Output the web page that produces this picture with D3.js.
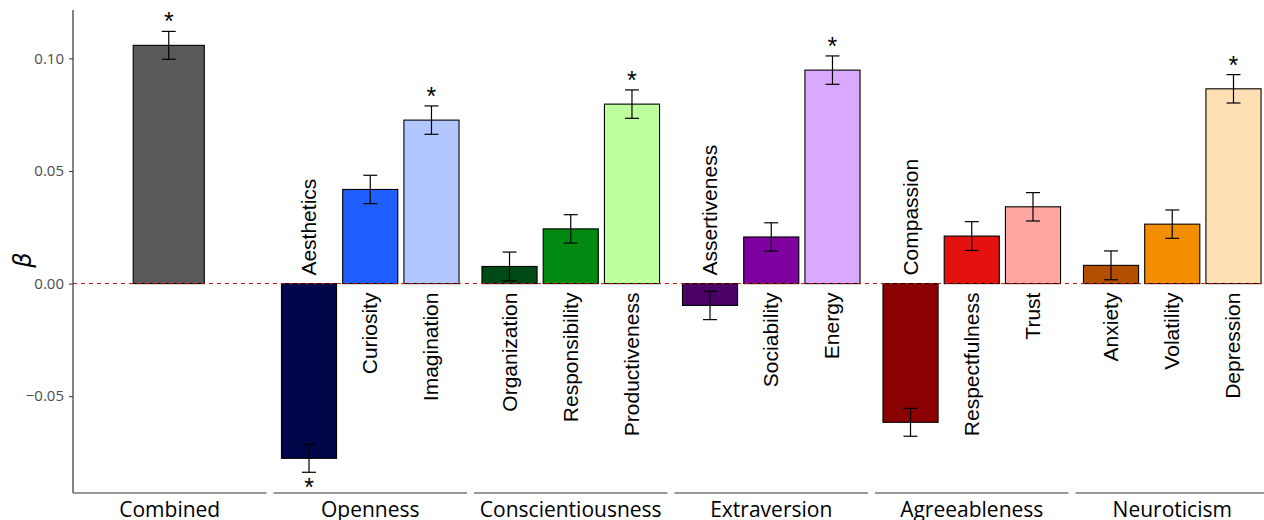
<!DOCTYPE html>
<html>
<head>
<meta charset="utf-8">
<script src="https://cdn.jsdelivr.net/npm/d3@7"></script>
<style>
  body { margin: 0; background: #fff; }
  svg { display: block; }
</style>
</head>
<body>
<svg width="1264" height="520"></svg>
<script>
// facet groups, facets in order
var groups = ["Combined", "Openness", "Conscientiousness", "Extraversion", "Agreeableness", "Neuroticism"];

// one entry per bar
var traits = ["Combined",
  "Aesthetics", "Curiosity", "Imagination",
  "Organization", "Responsibility", "Productiveness",
  "Assertiveness", "Sociability", "Energy",
  "Compassion", "Respectfulness", "Trust",
  "Anxiety", "Volatility", "Depression"];
var traitGroup = ["Combined",
  "Openness", "Openness", "Openness",
  "Conscientiousness", "Conscientiousness", "Conscientiousness",
  "Extraversion", "Extraversion", "Extraversion",
  "Agreeableness", "Agreeableness", "Agreeableness",
  "Neuroticism", "Neuroticism", "Neuroticism"];
var beta = [0.1058,
  -0.0776, 0.0418, 0.0726,
  0.0076, 0.0243, 0.0797,
  -0.0097, 0.0207, 0.0948,
  -0.0616, 0.0211, 0.0341,
  0.0081, 0.0264, 0.0865];
var se = [0.0062,
  0.0062, 0.0063, 0.0063,
  0.0064, 0.0063, 0.0063,
  0.0063, 0.0063, 0.0063,
  0.0062, 0.0064, 0.0063,
  0.0064, 0.0063, 0.0063];
var signif = [true,
  true, false, true,
  false, false, true,
  false, false, true,
  false, false, false,
  false, false, true];
var colors = ["#595959",
  "#00064a", "#1f5eff", "#b3c7ff",
  "#004a17", "#008a12", "#bdff9d",
  "#4a0066", "#7d009f", "#d9a9ff",
  "#8b0000", "#e4120f", "#ffa6a0",
  "#b24f00", "#f28e00", "#ffdfb4"];
var yTicks = [-0.05, 0, 0.05, 0.10];

var svg = d3.select("svg");
var plotLeft = 73, plotRight = 1262, plotTop = 10, plotBottom = 493;

var y = d3.scaleLinear().domain([-0.093, 0.1215]).range([plotBottom, plotTop]);

var gx = d3.scaleBand().domain(groups).range([plotLeft, plotRight + 7]).paddingInner(0.035);

// slot within a facet
var sub = d3.scaleBand().domain([0, 1, 2]).range([0, gx.bandwidth()]).paddingInner(0.1).paddingOuter(0.13);

var data = traits.map(function(t, i) {
  var members = traits.filter(function(d, j) { return traitGroup[j] === traitGroup[i]; });
  var k = members.indexOf(t);
  var w = sub.bandwidth(), x;
  if (members.length === 1) {
    w = sub.bandwidth() * 1.29;
    x = gx(traitGroup[i]) + gx.bandwidth() / 2 - w / 2 - 1;
  } else {
    x = gx(traitGroup[i]) + sub(k);
  }
  return {name: t, group: traitGroup[i], value: beta[i], se: se[i], sig: signif[i], color: colors[i], x: x, w: w};
});

// bars
svg.append("g").selectAll("rect")
  .data(data)
  .enter().append("rect")
    .attr("x", function(d) { return d.x; })
    .attr("width", function(d) { return d.w; })
    .attr("y", function(d) { return y(Math.max(0, d.value)); })
    .attr("height", function(d) { return Math.abs(y(d.value) - y(0)); })
    .attr("fill", function(d) { return d.color; })
    .attr("stroke", "#000")
    .attr("stroke-width", 1.1);

// zero line
svg.append("line")
  .attr("x1", plotLeft).attr("x2", plotRight)
  .attr("y1", y(0)).attr("y2", y(0))
  .attr("stroke", "#c81010")
  .attr("stroke-width", 1)
  .attr("stroke-dasharray", "4,4");

// error bars
var eb = svg.append("g").attr("stroke", "#000").attr("stroke-width", 1.2);
data.forEach(function(d) {
  var cx = d.x + d.w / 2, hw = 7;
  eb.append("line").attr("x1", cx).attr("x2", cx).attr("y1", y(d.value - d.se)).attr("y2", y(d.value + d.se));
  eb.append("line").attr("x1", cx - hw).attr("x2", cx + hw).attr("y1", y(d.value - d.se)).attr("y2", y(d.value - d.se));
  eb.append("line").attr("x1", cx - hw).attr("x2", cx + hw).attr("y1", y(d.value + d.se)).attr("y2", y(d.value + d.se));
});

// significance stars
svg.append("g").selectAll("text")
  .data(data.filter(function(d) { return d.sig; }))
  .enter().append("text")
    .attr("x", function(d) { return d.x + d.w / 2; })
    .attr("y", function(d) { return d.value > 0 ? y(d.value + d.se) - 1 : y(d.value - d.se) + 24; })
    .attr("text-anchor", "middle")
    .attr("font-family", "Liberation Sans, Arial, sans-serif")
    .attr("font-size", 25)
    .text("*");

// rotated trait labels
svg.append("g").selectAll("text")
  .data(data.filter(function(d) { return d.group !== "Combined"; }))
  .enter().append("text")
    .attr("transform", function(d) {
      var ty = d.value > 0 ? y(0) + 9 : y(0) - 8;
      return "translate(" + (d.x + d.w / 2 + 7) + "," + ty + ") rotate(-90)";
    })
    .attr("text-anchor", function(d) { return d.value > 0 ? "end" : "start"; })
    .attr("font-family", "Liberation Sans, Arial, sans-serif")
    .attr("font-size", 21)
    .attr("fill", "#000")
    .text(function(d) { return d.name; });

// y axis
var yAxis = d3.axisLeft(y).tickValues(yTicks).tickSize(4).tickPadding(5)
  .tickFormat(function(d) { return d3.format(".2f")(d).replace("-", "\u2212"); });
var ga = svg.append("g").attr("transform", "translate(" + plotLeft + ",0)").call(yAxis);
ga.select(".domain").attr("d", "M0," + plotTop + "V" + plotBottom).attr("stroke", "#333").attr("stroke-width", 1.2);
ga.selectAll(".tick line").attr("stroke", "#333");
ga.selectAll(".tick text")
  .attr("font-family", "Open Sans, sans-serif")
  .attr("font-size", 15)
  .attr("fill", "#4d4d4d");

svg.append("text")
  .attr("transform", "translate(31,260) rotate(-90)")
  .attr("text-anchor", "middle")
  .attr("font-family", "DejaVu Sans, sans-serif")
  .attr("font-style", "italic")
  .attr("font-size", 24)
  .text("\u03b2");

// facet bottom lines and labels
var fb = svg.append("g");
groups.forEach(function(g) {
  fb.append("line")
    .attr("x1", gx(g)).attr("x2", gx(g) + gx.bandwidth())
    .attr("y1", plotBottom).attr("y2", plotBottom)
    .attr("stroke", "#333").attr("stroke-width", 1.2);
  fb.append("text")
    .attr("x", gx(g) + gx.bandwidth() / 2)
    .attr("y", plotBottom + 24)
    .attr("text-anchor", "middle")
    .attr("font-family", "Open Sans, sans-serif")
    .attr("font-size", 21)
    .attr("fill", "#000")
    .text(g);
});
</script>
</body>
</html>
